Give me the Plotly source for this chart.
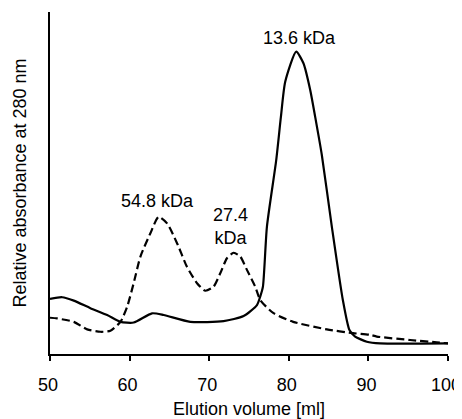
import plotly.graph_objects as go

# Solid trace (13.6 kDa protein)
solid_x = [50.0, 51.53, 52.99, 55.08, 57.18, 58.85, 60.51, 62.82, 64.28, 67.63,
           71.81, 74.32, 76.00, 76.41, 76.75, 77.25, 78.42, 79.01, 79.55, 80.93,
           81.84, 82.69, 83.31, 84.15, 85.41, 86.79, 87.62, 88.33, 89.80, 91.47, 100.0]
solid_y = [0.161, 0.166, 0.156, 0.134, 0.114, 0.094, 0.092, 0.119, 0.114, 0.094,
           0.096, 0.111, 0.143, 0.168, 0.197, 0.372, 0.567, 0.694, 0.796, 0.884,
           0.850, 0.772, 0.694, 0.582, 0.372, 0.158, 0.070, 0.051, 0.036, 0.031, 0.031]

# Dashed trace (54.8 / 27.4 kDa)
dash_x = [50.0, 50.90, 52.99, 54.67, 56.34, 57.59, 58.85, 59.69, 60.51, 61.36,
          62.61, 63.65, 64.71, 65.96, 67.21, 68.47, 69.51, 70.55, 71.39, 72.23,
          73.06, 73.90, 74.74, 75.78, 76.41, 78.04, 80.55, 84.78, 88.08, 90.21,
          91.05, 95.23, 98.58, 100.0]
dash_y = [0.106, 0.104, 0.094, 0.072, 0.065, 0.068, 0.094, 0.138, 0.207, 0.285,
          0.353, 0.401, 0.382, 0.324, 0.255, 0.207, 0.185, 0.197, 0.236, 0.280,
          0.296, 0.285, 0.246, 0.197, 0.158, 0.120, 0.094, 0.072, 0.061, 0.056,
          0.051, 0.041, 0.034, 0.031]

x_ticks = [50, 60, 70, 80, 90, 100]

labels = ["54.8 kDa", "27.4<br>kDa", "13.6 kDa"]
label_x = [63.55, 72.65, 81.3]
label_y = [0.447, 0.372, 0.924]

FONT = "Liberation Sans, Arial, Helvetica, sans-serif"

fig = go.Figure()
fig.add_trace(go.Scatter(x=dash_x, y=dash_y, mode="lines",
                         line=dict(color="black", width=2.2, dash="8px,4px",
                                   shape="spline", smoothing=0.6),
                         showlegend=False, hoverinfo="skip"))
fig.add_trace(go.Scatter(x=solid_x, y=solid_y, mode="lines",
                         line=dict(color="black", width=2.2,
                                   shape="spline", smoothing=0.6),
                         showlegend=False, hoverinfo="skip"))

for t, xx, yy in zip(labels, label_x, label_y):
    fig.add_annotation(x=xx, y=yy, text=t, showarrow=False,
                       font=dict(size=18, color="black", family=FONT),
                       xanchor="center", yanchor="middle")

# the page body adds an 8px margin, so the figure is 8px smaller than the window
fig.update_layout(
    width=454, height=411, autosize=False,
    margin=dict(l=42, r=14, t=4, b=65),
    paper_bgcolor="white", plot_bgcolor="white",
    font=dict(family=FONT, size=18, color="black"),
    showlegend=False,
)
fig.update_xaxes(range=[50, 100], tickvals=x_ticks, ticktext=[str(v) for v in x_ticks],
                 showline=True, linecolor="black", linewidth=2,
                 ticks="outside", ticklen=5, tickwidth=2, tickcolor="black",
                 showgrid=False, zeroline=False, ticklabelstandoff=8,
                 ticklabelshift=-2,
                 ticklabeloverflow="allow", automargin=False,
                 tickfont=dict(size=18, color="black", family=FONT),
                 title=dict(text="Elution volume [ml]", standoff=12,
                            font=dict(size=18, color="black", family=FONT)))
fig.update_yaxes(range=[0, 1], showline=True, linecolor="black", linewidth=2,
                 ticks="", showticklabels=False, showgrid=False, zeroline=False,
                 automargin=False,
                 title=dict(text="Relative absorbance at 280 nm", standoff=17,
                            font=dict(size=18, color="black", family=FONT)))

fig.write_html("out.html")
